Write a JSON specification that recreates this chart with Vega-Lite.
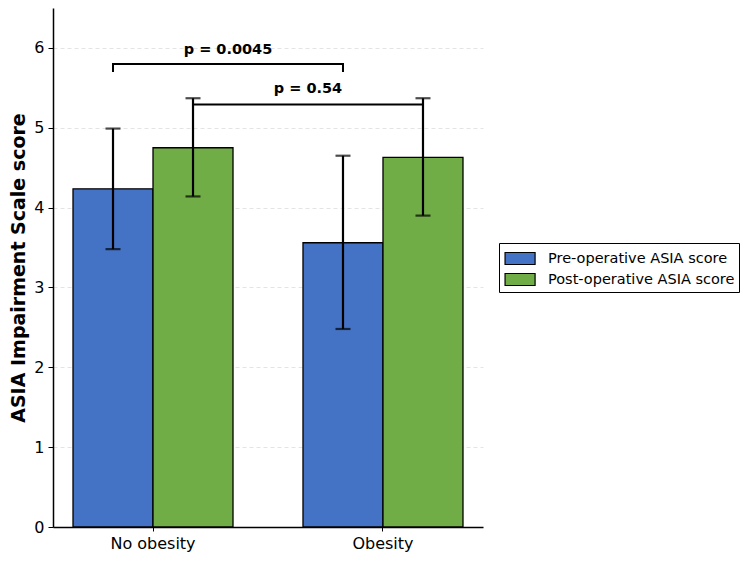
{
  "$schema": "https://vega.github.io/schema/vega-lite/v6.json",
  "width": 430,
  "height": 519,
  "autosize": {"type": "none"},
  "padding": {"left": 53, "top": 8, "right": 267, "bottom": 34},
  "config": {
    "font": "DejaVu Sans",
    "view": {"stroke": null},
    "axis": {"labelColor": "black", "tickColor": "black", "domainColor": "black", "labelFont": "DejaVu Sans", "titleFont": "DejaVu Sans", "labelFontSize": 16, "domainWidth": 1.5, "tickWidth": 1},
    "axisX": {"labelAngle": 0, "tickSize": 4, "labelPadding": 4, "grid": false},
    "axisY": {"tickSize": 5, "labelPadding": 4, "titlePadding": 5, "titleFontSize": 19, "titleFontWeight": "bold", "titleColor": "black", "grid": true, "gridDash": [4, 3], "gridColor": "#dddddd", "gridWidth": 0.8, "format": "d"},
    "legend": {"labelLimit": 400}
  },
  "datasets": {
    "bars": [
      {"group": "No obesity", "series": "Pre-operative ASIA score", "mean": 4.235, "lo": 3.48, "hi": 4.99},
      {"group": "No obesity", "series": "Post-operative ASIA score", "mean": 4.75, "lo": 4.14, "hi": 5.37},
      {"group": "Obesity", "series": "Pre-operative ASIA score", "mean": 3.56, "lo": 2.48, "hi": 4.65},
      {"group": "Obesity", "series": "Post-operative ASIA score", "mean": 4.63, "lo": 3.9, "hi": 5.37}
    ],
    "brackets": [
      {"bracket": "a", "o": 1, "group": "No obesity", "series": "Pre-operative ASIA score", "val": 5.7},
      {"bracket": "a", "o": 2, "group": "No obesity", "series": "Pre-operative ASIA score", "val": 5.8},
      {"bracket": "a", "o": 3, "group": "Obesity", "series": "Pre-operative ASIA score", "val": 5.8},
      {"bracket": "a", "o": 4, "group": "Obesity", "series": "Pre-operative ASIA score", "val": 5.7},
      {"bracket": "b", "o": 1, "group": "No obesity", "series": "Post-operative ASIA score", "val": 5.2},
      {"bracket": "b", "o": 2, "group": "No obesity", "series": "Post-operative ASIA score", "val": 5.29},
      {"bracket": "b", "o": 3, "group": "Obesity", "series": "Post-operative ASIA score", "val": 5.29},
      {"bracket": "b", "o": 4, "group": "Obesity", "series": "Post-operative ASIA score", "val": 5.2}
    ]
  },
  "layer": [
    {
      "data": {"name": "bars"},
      "mark": {"type": "bar", "stroke": "black", "strokeWidth": 1.3},
      "encoding": {
        "x": {
          "field": "group", "type": "nominal",
          "scale": {"domain": ["No obesity", "Obesity"], "paddingInner": 0.3043, "paddingOuter": 0.087},
          "axis": {"title": null}
        },
        "xOffset": {
          "field": "series", "type": "nominal",
          "scale": {"domain": ["Pre-operative ASIA score", "Post-operative ASIA score"], "paddingInner": 0, "paddingOuter": 0}
        },
        "y": {
          "field": "mean", "type": "quantitative",
          "scale": {"domain": [0, 6.5], "nice": false, "zero": true},
          "axis": {"title": "ASIA Impairment Scale score", "values": [0, 1, 2, 3, 4, 5, 6]}
        },
        "color": {
          "field": "series", "type": "nominal",
          "scale": {"domain": ["Pre-operative ASIA score", "Post-operative ASIA score"], "range": ["#4472C4", "#70AD47"]},
          "legend": {
            "title": null, "orient": "none", "legendX": 446, "legendY": 235,
            "strokeColor": "black", "fillColor": "white", "padding": 4, "cornerRadius": 0,
            "labelFontSize": 14.5, "labelColor": "black", "labelOffset": 22, "rowPadding": 1,
            "labelExpr": "datum.label + '    '",
            "symbolType": "M-0.9,-0.57L1.96,-0.57L1.96,0.57L-0.9,0.57Z", "symbolSize": 441,
            "symbolStrokeColor": "black", "symbolStrokeWidth": 1.2, "symbolOpacity": 1
          }
        }
      }
    },
    {
      "data": {"name": "bars"},
      "mark": {"type": "rule", "color": "black", "strokeWidth": 2.2},
      "encoding": {
        "x": {"field": "group", "type": "nominal"},
        "xOffset": {"field": "series", "type": "nominal"},
        "y": {"field": "lo", "type": "quantitative"},
        "y2": {"field": "hi"}
      }
    },
    {
      "data": {"name": "bars"},
      "mark": {"type": "tick", "color": "black", "size": 15, "thickness": 2.2, "orient": "horizontal"},
      "encoding": {
        "x": {"field": "group", "type": "nominal"},
        "xOffset": {"field": "series", "type": "nominal"},
        "y": {"field": "lo", "type": "quantitative"}
      }
    },
    {
      "data": {"name": "bars"},
      "mark": {"type": "tick", "color": "black", "size": 15, "thickness": 2.2, "orient": "horizontal"},
      "encoding": {
        "x": {"field": "group", "type": "nominal"},
        "xOffset": {"field": "series", "type": "nominal"},
        "y": {"field": "hi", "type": "quantitative"}
      }
    },
    {
      "data": {"name": "brackets"},
      "mark": {"type": "line", "color": "black", "strokeWidth": 2, "strokeCap": "butt", "strokeJoin": "miter"},
      "encoding": {
        "x": {"field": "group", "type": "nominal"},
        "xOffset": {"field": "series", "type": "nominal"},
        "y": {"field": "val", "type": "quantitative"},
        "detail": {"field": "bracket"},
        "order": {"field": "o", "type": "quantitative"}
      }
    },
    {
      "data": {"values": [{"group": "No obesity", "ty": 5.93, "label": "p = 0.0045"}]},
      "mark": {"type": "text", "fontWeight": "bold", "fontSize": 14.5, "color": "black", "align": "center", "baseline": "alphabetic", "dx": -5},
      "encoding": {
        "x": {"field": "group", "type": "nominal", "bandPosition": 1},
        "y": {"field": "ty", "type": "quantitative"},
        "text": {"field": "label"}
      }
    },
    {
      "data": {"values": [{"group": "Obesity", "ty": 5.43, "label": "p = 0.54"}]},
      "mark": {"type": "text", "fontWeight": "bold", "fontSize": 14.5, "color": "black", "align": "center", "baseline": "alphabetic", "dx": 5},
      "encoding": {
        "x": {"field": "group", "type": "nominal", "bandPosition": 0},
        "y": {"field": "ty", "type": "quantitative"},
        "text": {"field": "label"}
      }
    }
  ]
}
